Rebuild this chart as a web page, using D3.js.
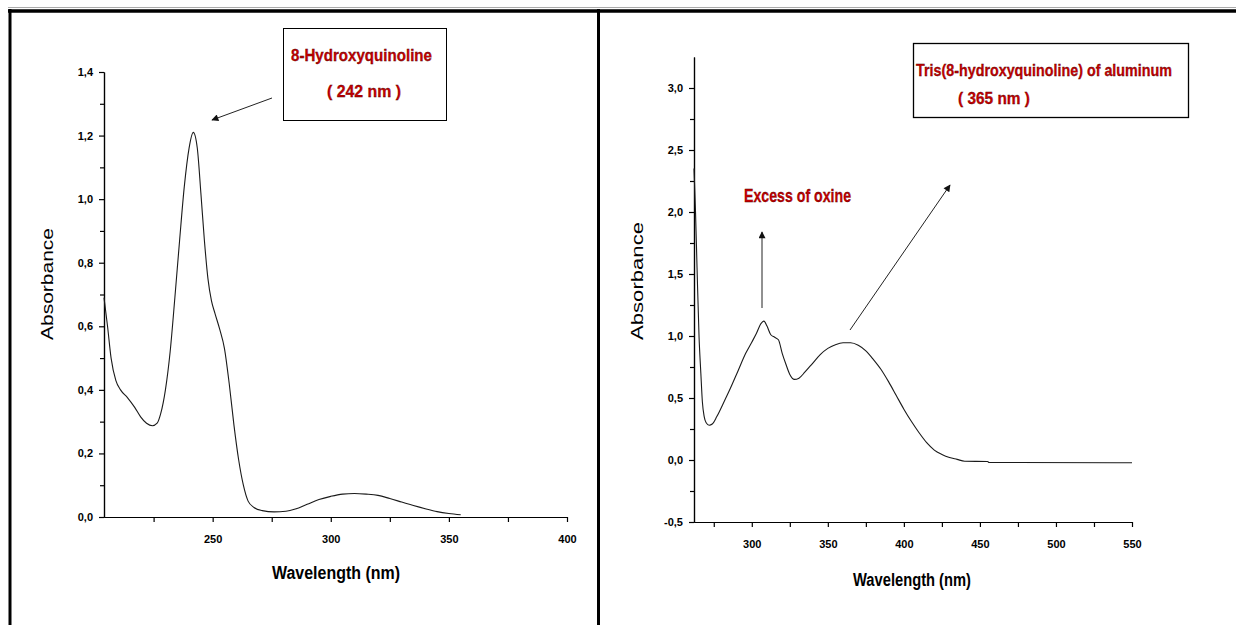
<!DOCTYPE html>
<html>
<head>
<meta charset="utf-8">
<script src="https://cdn.jsdelivr.net/npm/d3@7"></script>
<style>
  body { margin: 0; background: #fff; }
  svg { display: block; }
  .tick text { font-family: "Liberation Sans", Arial, sans-serif; font-weight: bold; font-size: 11px; fill: #000; }
  .domain, .tick line { stroke: #000; stroke-width: 1.2; }
  .note { font-family: "Liberation Sans Narrow", "Liberation Sans", Arial, sans-serif; font-weight: bold; fill: #c80000; stroke: #400; stroke-width: 0.3; }
  .title { font-family: "Liberation Sans Narrow", "Liberation Sans", Arial, sans-serif; font-weight: bold; fill: #000; }
  .ylab { font-family: "Liberation Sans", Arial, sans-serif; fill: #000; }
</style>
</head>
<body>
<svg id="chart" width="1236" height="625"></svg>
<script>
// left panel: 8-hydroxyquinoline spectrum
var leftWl  = [204, 205.5, 207, 209, 211, 214, 217, 219.5, 222, 224.5, 226.5, 228, 230, 232, 234, 236, 238, 240, 241.8, 243.5, 245, 246.5, 248, 249.5, 251, 253, 255, 257, 259, 261, 263, 265, 267.5, 271, 276, 281, 285, 290, 295, 300, 305, 310, 315, 320, 325, 330, 335, 340, 345, 350, 355];
var leftAbs = [0.69, 0.60, 0.50, 0.43, 0.40, 0.375, 0.345, 0.315, 0.295, 0.287, 0.295, 0.325, 0.40, 0.52, 0.69, 0.87, 1.04, 1.16, 1.21, 1.16, 1.02, 0.87, 0.75, 0.68, 0.64, 0.59, 0.53, 0.42, 0.29, 0.18, 0.10, 0.05, 0.03, 0.02, 0.016, 0.018, 0.025, 0.04, 0.055, 0.065, 0.072, 0.074, 0.072, 0.068, 0.058, 0.047, 0.036, 0.026, 0.017, 0.011, 0.007];

// right panel: Alq3 spectrum
var rightWl  = [262, 263, 264, 265.3, 266.5, 267.5, 268.7, 270, 272, 274, 277, 281, 286, 291, 296, 300, 303, 306, 308, 310, 312.5, 315, 317.5, 320, 322.5, 325, 328, 331, 335, 340, 345, 350, 355, 360, 365, 370, 375, 380, 385, 390, 395, 400, 405, 410, 415, 420, 425, 430, 435, 440, 455, 456, 550];
var rightAbs = [2.35, 2.0, 1.55, 1.0, 0.7, 0.47, 0.35, 0.30, 0.28, 0.29, 0.35, 0.45, 0.58, 0.72, 0.86, 0.95, 1.02, 1.10, 1.12, 1.08, 1.01, 0.99, 0.97, 0.86, 0.77, 0.69, 0.65, 0.66, 0.71, 0.78, 0.85, 0.90, 0.93, 0.945, 0.945, 0.925, 0.88, 0.81, 0.73, 0.63, 0.52, 0.41, 0.31, 0.22, 0.14, 0.08, 0.045, 0.02, 0.005, -0.01, -0.012, -0.02, -0.022];

var leftXTicks = [250, 300, 350, 400];
var leftXMinor = [225, 275, 325, 375];
var leftYTicks = [0, 0.2, 0.4, 0.6, 0.8, 1.0, 1.2, 1.4];
var leftYMinor = [0.1, 0.3, 0.5, 0.7, 0.9, 1.1, 1.3];
var rightXTicks = [300, 350, 400, 450, 500, 550];
var rightXMinor = [275, 325, 375, 425, 475, 525];
var rightYTicks = [-0.5, 0, 0.5, 1.0, 1.5, 2.0, 2.5, 3.0];
var rightYMinor = [-0.25, 0.25, 0.75, 1.25, 1.75, 2.25, 2.75];

var svg = d3.select("#chart");
var comma = d => d3.format(".1f")(d).replace(".", ",").replace("\u2212", "-");

// frame
svg.append("line").attr("x1", 8).attr("x2", 1236).attr("y1", 7.5).attr("y2", 7.5).attr("stroke", "#aaa").attr("stroke-width", 1);
svg.append("line").attr("x1", 8).attr("x2", 1236).attr("y1", 11).attr("y2", 11).attr("stroke", "#000").attr("stroke-width", 3.5);
svg.append("line").attr("x1", 10).attr("x2", 10).attr("y1", 9).attr("y2", 625).attr("stroke", "#000").attr("stroke-width", 3);
svg.append("line").attr("x1", 598.5).attr("x2", 598.5).attr("y1", 9).attr("y2", 625).attr("stroke", "#000").attr("stroke-width", 3);

// arrowhead
svg.append("defs").append("marker")
  .attr("id", "arr").attr("viewBox", "0 0 10 10").attr("refX", 9).attr("refY", 5)
  .attr("markerWidth", 9).attr("markerHeight", 7).attr("markerUnits", "userSpaceOnUse").attr("orient", "auto")
  .append("path").attr("d", "M0,0 L10,5 L0,10 z").attr("fill", "#111");

function panel(cfg) {
  var x = d3.scaleLinear().domain(cfg.xd).range(cfg.xr);
  var y = d3.scaleLinear().domain(cfg.yd).range(cfg.yr);
  var g = svg.append("g");

  g.append("g").attr("transform", `translate(0,${cfg.yr[0]})`)
    .call(d3.axisBottom(x).tickValues(cfg.xMinor).tickSize(5).tickSizeOuter(0).tickFormat(""));
  g.append("g").attr("transform", `translate(0,${cfg.yr[0]})`)
    .call(d3.axisBottom(x).tickValues(cfg.xTicks).tickSize(5).tickSizeOuter(0).tickPadding(13).tickFormat(d3.format("d")));
  g.append("g").attr("transform", `translate(${cfg.xr[0]},0)`)
    .call(d3.axisLeft(y).tickValues(cfg.yMinor).tickSize(4).tickSizeOuter(0).tickFormat(""));
  g.append("g").attr("transform", `translate(${cfg.xr[0]},0)`)
    .call(d3.axisLeft(y).tickValues(cfg.yTicks).tickSize(5).tickSizeOuter(0).tickPadding(cfg.ypad).tickFormat(comma));

  var line = d3.line().x(d => x(d[0])).y(d => y(d[1])).curve(d3.curveMonotoneX);
  g.append("path").datum(d3.zip(cfg.wl, cfg.abs))
    .attr("d", line).attr("fill", "none").attr("stroke", "#1a1a1a").attr("stroke-width", 1.1);

  g.append("text").attr("class", "title").attr("x", cfg.xt[0]).attr("y", cfg.xt[1])
    .attr("text-anchor", "middle").attr("font-size", 18)
    .attr("textLength", cfg.xt[2]).attr("lengthAdjust", "spacingAndGlyphs").text("Wavelength (nm)");
  g.append("text").attr("class", "ylab").attr("transform", `translate(${cfg.yt[0]},${cfg.yt[1]}) rotate(-90)`)
    .attr("text-anchor", "middle").attr("font-size", 17)
    .attr("textLength", cfg.yt[2]).attr("lengthAdjust", "spacingAndGlyphs").text("Absorbance");
  return { x: x, y: y };
}

panel({ xd: [204, 400], xr: [104, 567], yd: [0, 1.4], yr: [517, 72],
  xTicks: leftXTicks, xMinor: leftXMinor, yTicks: leftYTicks, yMinor: leftYMinor,
  wl: leftWl, abs: leftAbs, ypad: 6, xt: [336, 579, 128], yt: [53, 284, 112] });

panel({ xd: [262, 550], xr: [694, 1132], yd: [-0.5, 3.25], yr: [522, 57],
  xTicks: rightXTicks, xMinor: rightXMinor, yTicks: rightYTicks, yMinor: rightYMinor,
  wl: rightWl, abs: rightAbs, ypad: 6, xt: [912, 586, 118], yt: [643, 281, 118] });

// annotation boxes
svg.append("rect").attr("x", 283.5).attr("y", 28.5).attr("width", 163).attr("height", 92)
  .attr("fill", "#fff").attr("stroke", "#000").attr("stroke-width", 1);
svg.append("rect").attr("x", 913.5).attr("y", 43.5).attr("width", 275).attr("height", 74)
  .attr("fill", "#fff").attr("stroke", "#000").attr("stroke-width", 1.3);

var notes = [
  ["8-Hydroxyquinoline", 291, 61, 141, 17],
  ["( 242 nm )", 327, 97, 74, 17],
  ["Tris(8-hydroxyquinoline) of aluminum", 916, 76, 256, 17],
  ["( 365 nm )", 958, 104, 72, 17],
  ["Excess of oxine", 744, 202, 107, 19]
];
svg.selectAll("text.note").data(notes).enter().append("text")
  .attr("class", "note").attr("x", d => d[1]).attr("y", d => d[2]).attr("font-size", d => d[4])
  .attr("textLength", d => d[3]).attr("lengthAdjust", "spacingAndGlyphs").text(d => d[0]);

// arrows
var arrows = [[272, 98, 212, 120], [762, 308, 762, 232], [850, 330, 950, 185]];
svg.selectAll("line.arrow").data(arrows).enter().append("line")
  .attr("class", "arrow")
  .attr("x1", d => d[0]).attr("y1", d => d[1]).attr("x2", d => d[2]).attr("y2", d => d[3])
  .attr("stroke", "#222").attr("stroke-width", 1).attr("marker-end", "url(#arr)");
</script>
</body>
</html>
